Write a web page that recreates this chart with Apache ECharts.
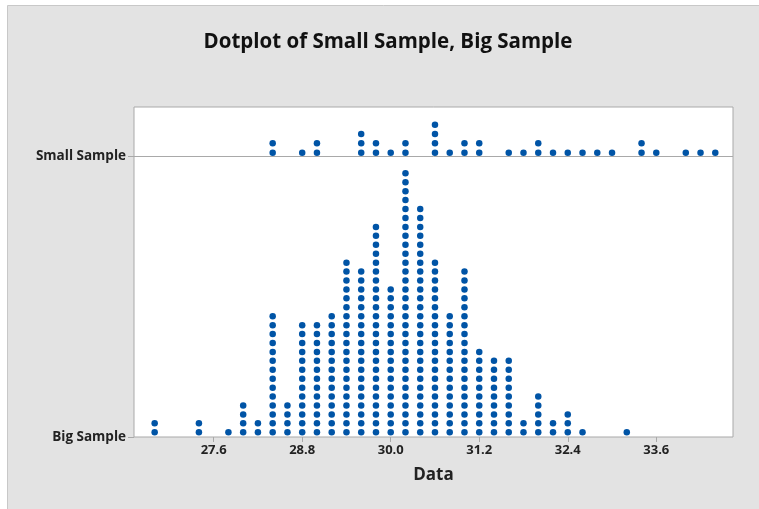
<!DOCTYPE html>
<html>
<head>
<meta charset="utf-8">
<script src="https://cdn.jsdelivr.net/npm/echarts@6/dist/echarts.min.js"></script>
<style>
  html, body { margin: 0; padding: 0; background: #fff; }
  #chart { width: 759px; height: 509px; }
</style>
</head>
<body>
<div id="chart"></div>
<script>
// bin centres and how many dots are stacked in each one
const bigBins = [26.8, 27.4, 27.8, 28.0, 28.2, 28.4, 28.6, 28.8, 29.0, 29.2, 29.4, 29.6, 29.8, 30.0,
  30.2, 30.4, 30.6, 30.8, 31.0, 31.2, 31.4, 31.6, 31.8, 32.0, 32.2, 32.4, 32.6, 33.2]
const bigCounts = [2, 2, 1, 4, 2, 14, 4, 13, 13, 14, 20, 19, 24, 17,
  30, 26, 20, 14, 19, 10, 9, 9, 2, 5, 2, 3, 1, 1]
const smallBins = [28.4, 28.8, 29.0, 29.6, 29.8, 30.0, 30.2, 30.6, 30.8, 31.0, 31.2, 31.6,
  31.8, 32.0, 32.2, 32.4, 32.6, 32.8, 33.0, 33.4, 33.6, 34.0, 34.2, 34.4]
const smallCounts = [2, 1, 2, 3, 2, 1, 2, 4, 1, 2, 2, 1,
  1, 2, 1, 1, 1, 1, 1, 2, 1, 1, 1, 1]
const xTicks = [27.6, 28.8, 30.0, 31.2, 32.4, 33.6]
const rowNames = ['Big Sample', 'Small Sample']

// vertical layout of the two rows (y axis runs 0..330)
const rowBase = [0, 281]
const dotStep = [8.93, 9.33]
const dotLift = [4.7, 3.3]

function stack (bins, counts, row) {
  const pts = []
  bins.forEach(function (x, i) {
    for (let k = 0; k < counts[i]; k++) {
      pts.push([x, rowBase[row] + dotLift[row] + k * dotStep[row]])
    }
  })
  return pts
}

const font = '"Open Sans", "Noto Sans", sans-serif'
const dotColor = '#0054a6'

const chart = echarts.init(document.getElementById('chart'))
chart.setOption({
  backgroundColor: '#fff',
  animation: false,
  graphic: [{
    type: 'rect',
    z: -10,
    silent: true,
    shape: { x: 7.5, y: 5.5, width: 760, height: 510 },
    style: { fill: '#e3e3e3', stroke: '#c8c8c8', lineWidth: 1 }
  }],
  title: {
    text: 'Dotplot of Small Sample, Big Sample',
    left: 383,
    top: 27,
    textAlign: 'center',
    textStyle: { fontFamily: font, fontSize: 20.5, fontWeight: 'bold', color: '#111' }
  },
  grid: {
    left: 134,
    right: 26,
    top: 107,
    bottom: 72,
    show: true,
    backgroundColor: '#fff',
    borderColor: '#a9a9a9',
    borderWidth: 1
  },
  xAxis: {
    type: 'value',
    min: 26.52,
    max: 34.64,
    name: 'Data',
    nameLocation: 'middle',
    nameGap: 30,
    nameTextStyle: { fontFamily: font, fontSize: 17, fontWeight: 'bold', color: '#222' },
    axisLine: { show: false },
    splitLine: { show: false },
    axisTick: { show: true, length: 5, customValues: xTicks, lineStyle: { color: '#a9a9a9' } },
    axisLabel: {
      customValues: xTicks,
      margin: 7,
      fontFamily: font,
      fontSize: 13,
      fontWeight: 'bold',
      color: '#222',
      formatter: function (v) { return v.toFixed(1) }
    }
  },
  yAxis: {
    type: 'value',
    min: 0,
    max: 330,
    axisLine: { show: false },
    splitLine: { show: false },
    axisTick: { show: true, length: 6, customValues: rowBase, lineStyle: { color: '#a9a9a9' } },
    axisLabel: {
      customValues: rowBase,
      margin: 8,
      fontFamily: font,
      fontSize: 13.5,
      fontWeight: 'bold',
      color: '#222',
      formatter: function (v) { return v === rowBase[0] ? rowNames[0] : rowNames[1] }
    }
  },
  series: [
    {
      name: rowNames[0],
      type: 'scatter',
      symbolSize: 6.5,
      itemStyle: { color: dotColor, opacity: 1 },
      data: stack(bigBins, bigCounts, 0)
    },
    {
      name: rowNames[1],
      type: 'scatter',
      symbolSize: 6.5,
      itemStyle: { color: dotColor, opacity: 1 },
      data: stack(smallBins, smallCounts, 1),
      markLine: {
        silent: true,
        symbol: 'none',
        label: { show: false },
        lineStyle: { color: '#a9a9a9', type: 'solid', width: 1 },
        data: [{ yAxis: rowBase[1] }]
      }
    }
  ]
})
</script>
</body>
</html>
